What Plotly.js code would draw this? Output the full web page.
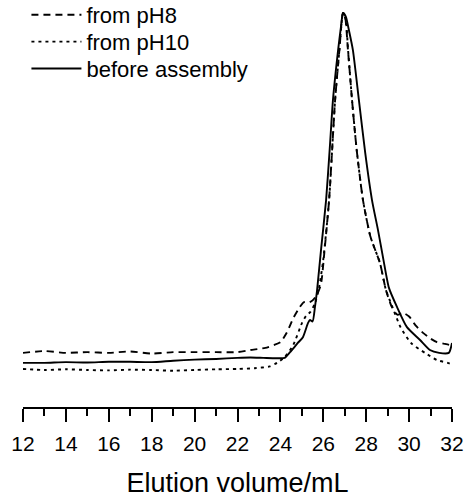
<!DOCTYPE html>
<html>
<head>
<meta charset="utf-8">
<script src="https://cdn.plot.ly/plotly-3.0.1.min.js"></script>
<style>
  html, body { margin: 0; padding: 0; background: #fff; }
  #chart { width: 467px; height: 498px; }
</style>
</head>
<body>
<div id="chart"></div>
<script>
// Elution volume (mL) and normalized absorbance (a.u.)
const seriesNames = ["from pH8", "from pH10", "before assembly"];

const pH8_x = [12, 13, 14, 15, 16, 17, 18, 19, 20, 21, 22, 22.6, 23.3, 23.7, 24.0, 24.3, 24.6, 24.9, 25.1, 25.3, 25.5, 25.7, 25.89, 26.05, 26.27, 26.55, 26.75, 26.92, 27.0, 27.15, 27.34, 27.55, 27.85, 28.2, 28.64, 28.92, 29.2, 29.45, 29.72, 30.0, 30.3, 30.65, 31.0, 31.3, 31.6, 31.9, 32.0];
const pH8_y = [4.8, 5.3, 4.8, 5.0, 4.8, 5.2, 4.6, 5.0, 5.0, 5.0, 5.0, 5.6, 6.2, 7.0, 7.8, 10.5, 14.5, 17.6, 19.0, 18.8, 19.5, 21.0, 24.0, 33.0, 47.6, 75.6, 89.6, 100, 99.5, 89.6, 75.6, 62.0, 47.6, 37.3, 30.0, 22.4, 17.6, 15.5, 16.0, 15.0, 12.5, 10.4, 8.8, 7.8, 7.4, 7.0, 7.0];

const pH10_x = [12, 13, 14, 15, 16, 17, 18, 19, 20, 21, 22, 22.8, 23.5, 23.84, 24.2, 24.6, 25.01, 25.2, 25.4, 25.6, 25.8, 26.0, 26.27, 26.55, 26.75, 26.92, 27.05, 27.15, 27.34, 27.55, 27.85, 28.2, 28.64, 28.92, 29.2, 29.6, 30.1, 30.74, 31.3, 31.8, 32.0];
const pH10_y = [0.3, 0.0, 0.2, 0.0, -0.1, 0.1, 0.0, -0.2, 0.0, 0.2, 0.3, 0.5, 1.0, 2.0, 3.6, 7.0, 13.2, 15.2, 16.3, 18.5, 23.0, 31.0, 47.6, 75.6, 89.6, 100, 98.0, 90.0, 75.6, 62.0, 47.6, 37.3, 30.0, 22.4, 18.0, 12.0, 7.5, 4.8, 2.8, 2.0, 1.6];

const before_x = [12, 13, 14, 15, 16, 17, 18, 19, 20, 21, 22, 22.6, 23.2, 23.8, 24.2, 24.45, 24.8, 25.05, 25.29, 25.38, 25.5, 25.61, 25.71, 25.9, 26.13, 26.3, 26.45, 26.69, 26.82, 26.92, 27.05, 27.2, 27.38, 27.66, 27.95, 28.27, 28.55, 28.8, 29.06, 29.44, 29.9, 30.51, 30.97, 31.4, 31.85, 32.0];
const before_y = [2.0, 2.0, 2.2, 2.1, 2.3, 2.3, 2.2, 2.6, 2.9, 3.1, 3.4, 3.5, 3.4, 3.3, 3.4, 5.0, 7.5, 9.2, 13.2, 14.0, 13.6, 17.6, 22.4, 34.0, 47.6, 62.0, 75.6, 89.6, 96.0, 100, 99.0, 95.0, 89.6, 75.6, 61.0, 47.6, 39.2, 31.0, 23.0, 17.6, 12.0, 8.4, 5.6, 4.8, 4.8, 7.6];

const xTickVals = [12, 14, 16, 18, 20, 22, 24, 26, 28, 30, 32];
const xTickText = ["12", "14", "16", "18", "20", "22", "24", "26", "28", "30", "32"];

const FONT = "Liberation Sans, Arial, sans-serif";

const traces = [
  {x: pH8_x, y: pH8_y, name: seriesNames[0], mode: "lines", legend: "legend",
   line: {color: "#000", width: 1.9, dash: "7px,5px", shape: "spline", smoothing: 0.6}},
  {x: pH10_x, y: pH10_y, name: seriesNames[1], mode: "lines", legend: "legend2",
   line: {color: "#000", width: 1.9, dash: "3px,4px", shape: "spline", smoothing: 0.6}},
  {x: before_x, y: before_y, name: seriesNames[2], mode: "lines", legend: "legend3",
   line: {color: "#000", width: 1.9, dash: "solid", shape: "spline", smoothing: 0.6}}
];

function legendAt(yContainer) {
  return {
    xref: "paper", yref: "container",
    x: 0.008, y: yContainer, xanchor: "left", yanchor: "middle",
    font: {family: FONT, size: 22, color: "#000"},
    bgcolor: "rgba(0,0,0,0)", borderwidth: 0,
    itemwidth: 50, tracegroupgap: 0
  };
}

const layout = {
  width: 467, height: 498,
  margin: {l: 23, r: 15, t: 5, b: 91, autoexpand: false},
  paper_bgcolor: "#fff", plot_bgcolor: "#fff",
  showlegend: true,
  legend: legendAt(0.970),
  legend2: legendAt(0.916),
  legend3: legendAt(0.862),
  xaxis: {
    range: [12, 32],
    tickmode: "array", tickvals: xTickVals, ticktext: xTickText,
    ticks: "outside", ticklen: 13, tickwidth: 2, tickcolor: "#000",
    ticklabelstandoff: 4,
    minor: {dtick: 1, tick0: 12, ticks: "outside", ticklen: 7, tickwidth: 2, tickcolor: "#000", showgrid: false},
    showline: true, linewidth: 2, linecolor: "#000",
    showgrid: false, zeroline: false,
    tickfont: {family: FONT, size: 21, color: "#000"},
    title: {text: "Elution volume/mL", font: {family: FONT, size: 27, color: "#000"}, standoff: 32}
  },
  yaxis: {
    range: [-10.36, 102.24],
    visible: false, showgrid: false, zeroline: false
  }
};

Plotly.newPlot("chart", traces, layout, {staticPlot: true, displayModeBar: false});
</script>
</body>
</html>
